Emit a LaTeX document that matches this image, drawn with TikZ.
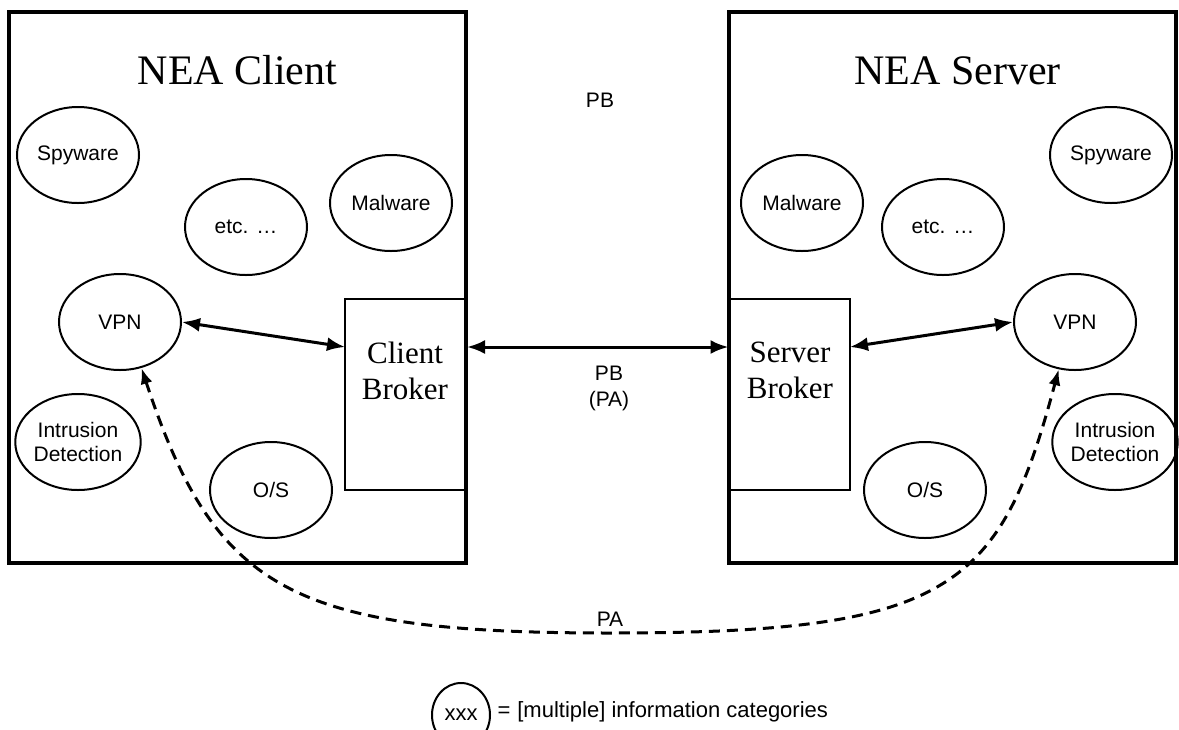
\documentclass[tikz,border=0pt]{standalone}
\usepackage{fontspec}
\setmainfont{Liberation Serif}
\setsansfont{Liberation Sans}
\usetikzlibrary{shapes.geometric,arrows.meta}
\begin{document}
\begin{tikzpicture}[x=1pt,y=-1pt,
  cat/.style={draw, line width=2pt, ellipse, minimum width=122pt, minimum height=96pt, inner sep=0pt,
    font=\sffamily\fontsize{21}{24}\selectfont, align=center},
  outer/.style={draw, line width=3.5pt, rectangle, inner sep=0pt, outer sep=0pt, anchor=north west},
  broker/.style={draw, line width=1.5pt, rectangle, minimum width=120pt, minimum height=191pt,
    inner sep=0pt, outer sep=0pt, anchor=north west},
  title/.style={font=\fontsize{42}{50}\selectfont, anchor=base},
  brokerlabel/.style={font=\fontsize{31}{36}\selectfont, align=center},
  lbl/.style={font=\sffamily\fontsize{21}{26}\selectfont, align=center},
  link/.style={line width=3pt, {Latex[length=18pt,width=14pt]}-{Latex[length=18pt,width=14pt]}},
  palink/.style={line width=3pt, dash pattern=on 11pt off 7pt,
    {Latex[length=16pt,width=12pt]}-{Latex[length=16pt,width=12pt]}}]
\useasboundingbox (0,0) rectangle (1179,729);

% outer boxes
\node[outer, minimum width=457pt, minimum height=551pt] (cbox) at (9,12) {};
\node[outer, minimum width=447pt, minimum height=551pt] (sbox) at (729,12) {};

% titles
\node[title] (ctitle) at (237.5,84) {NEA Client};
\node[title] (stitle) at (957.5,84) {NEA Server};

% brokers
\node[broker] (cb) at (345,299) {};
\node[broker] (sb) at (730,299) {};
\node[brokerlabel] (cbl) at (405,370.5) {Client\\Broker};
\node[brokerlabel] (sbl) at (790,370.5) {Server\\Broker};

% client categories
\node[cat] (spyL) at (78,155) {Spyware};
\node[cat] (etcL) at (246,227) {etc. \dots};
\node[cat] (malL) at (391,203) {Malware};
\node[cat] (vpnL) at (120,322) {VPN};
\node[cat] (idsL) at (78,442) {Intrusion\\Detection};
\node[cat] (osL) at (271,490) {O/S};

% server categories
\node[cat] (malR) at (802,203) {Malware};
\node[cat] (etcR) at (943,227) {etc. \dots};
\node[cat] (spyR) at (1111,155) {Spyware};
\node[cat] (vpnR) at (1075,322) {VPN};
\node[cat] (idsR) at (1115,442) {Intrusion\\Detection};
\node[cat] (osR) at (925,490) {O/S};

% labels
\node[lbl] (pbtop) at (600,100) {PB};
\node[lbl] (pbpa) at (609,388) {PB\\(PA)};

% connectors
\draw[link] (vpnL.east) -- ([yshift=-48pt]cb.north west);
\draw[link] ([xshift=2pt,yshift=-48pt]cb.north east) -- ([xshift=-1.5pt,yshift=-48pt]sb.north west);
\draw[link] ([yshift=-48pt]sb.north east) -- (vpnR.west);

\coordinate (pamid) at (610,633);
\draw[palink] (vpnL.-65) .. controls (215,590) and (290,633) .. (pamid)
  .. controls (950,633) and (1000,590) .. (vpnR.-109);
\node[lbl] (pa) at (610,619.5) {PA};

% legend
\node[cat, minimum width=58pt, minimum height=64pt, font=\sffamily\fontsize{22}{26}\selectfont] (leg) at (461,715) {xxx};
\node[lbl, anchor=base west, font=\sffamily\fontsize{22}{26}\selectfont] (legtext) at (494,717) {=\hspace{7pt}[multiple] information categories};
\end{tikzpicture}
\end{document}
